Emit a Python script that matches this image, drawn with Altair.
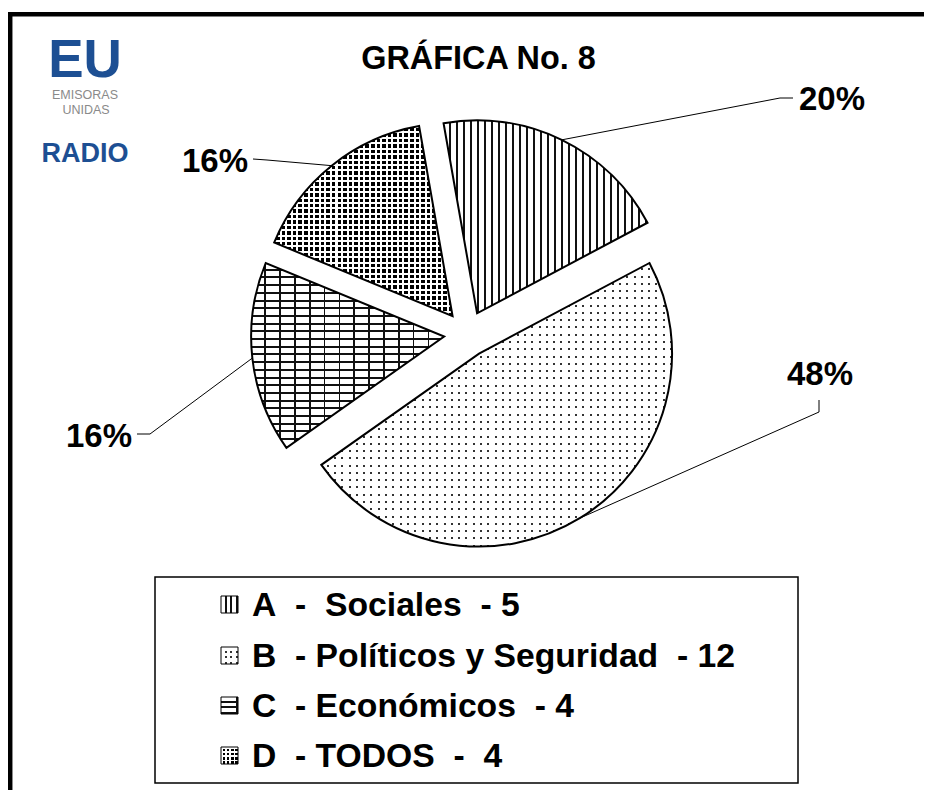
import math
import altair as alt
import pandas as pd

# ---------------- data ----------------
CATEGORIES = ["A", "B", "C", "D"]
NAMES = ["Sociales", "Políticos y Seguridad", "Económicos", "TODOS"]
COUNTS = [5, 12, 4, 4]
NB = "\u00a0"
LEGEND_TEXT = [
    f"A{NB} -{NB} Sociales{NB} - 5",
    f"B{NB} - Políticos y Seguridad{NB} - 12",
    f"C{NB} - Económicos{NB} - 4",
    f"D{NB} - TODOS{NB} -{NB} 4",
]
TITLE = "GRÁFICA No. 8"

# ---------------- layout (chart pixels = page pixels - 8) ----------------
M = 8
CX, CY = 467 - M, 334 - M
R = 193
EXPLODE = 23
START = math.radians(-10)
FONT = "Liberation Sans"
BLUE = "#1d4f93"
GREY = "#8a8a8a"

# label placement (page coordinates): elbow, end of leader, text anchor
LABEL_ELBOW = [(780, 98), (819, 412), (150, 434), (267, 160)]
LABEL_END = [(793, 98), (819, 400), (137, 434), (253, 159)]
LABEL_TXT = [(832, 110), (820, 385), (99, 447), (215, 172)]

# legend
LEG_BOX = (155, 577, 798, 783)
LEG_TEXT_X = 252
LEG_BASE = [616, 667, 717, 767]
SW_X, SW = 221, 17

TRANSP = "rgba(255,255,255,0)"


def stripes(n, frac, line, bg, axis):
    stops = []
    for i in range(n):
        a = i / n
        m = (i + 1 - frac) / n
        e = (i + 1) / n
        stops += [
            {"offset": round(a, 5), "color": bg},
            {"offset": round(m, 5), "color": bg},
            {"offset": round(m, 5), "color": line},
            {"offset": round(e, 5), "color": line},
        ]
    return {
        "gradient": "linear",
        "stops": stops,
        "x1": 0, "y1": 0,
        "x2": 1 if axis == "x" else 0,
        "y2": 0 if axis == "x" else 1,
    }


def pattern(kind, w, h, scale=1.0):
    """list of gradient fills (bottom to top) for a box of w x h pixels"""
    def n(dim, p):
        return max(1, int(round(dim / p)))
    if kind == "A":
        p, lw = 7.0 * scale, 2.0
        return [stripes(n(w, p), lw / p, "#111", "#fff", "x")]
    if kind == "B":
        p, s = 7.3 * scale, 2.0
        return [stripes(n(w, p), s / p, "#333", "#fff", "x"),
                stripes(n(h, p), s / p, TRANSP, "#fff", "y")]
    if kind == "C":
        ph, lh = 7.7 * scale, 2.0
        pv, lv = 15.0 * scale, 1.6
        return [stripes(n(h, ph), lh / ph, "#111", "#fff", "y"),
                stripes(n(w, pv), lv / pv, "#111", TRANSP, "x")]
    if kind == "D":
        p, s = 5.5 * scale, 3.5 * scale
        return [stripes(n(w, p), s / p, "#000", "#fff", "x"),
                stripes(n(h, p), s / p, TRANSP, "#fff", "y")]
    return []


# slice angles (used for pattern density and leader start points)
total = sum(COUNTS)
angles = []
cum = 0
for c in COUNTS:
    a0 = START + 2 * math.pi * cum / total
    cum += c
    a1 = START + 2 * math.pi * cum / total
    angles.append((a0, a1))


def arc_bbox(a0, a1):
    xs, ys = [0.0], [0.0]
    for k in range(301):
        a = a0 + (a1 - a0) * k / 300
        xs.append(R * math.sin(a))
        ys.append(-R * math.cos(a))
    return max(xs) - min(xs), max(ys) - min(ys)


pie_df = pd.DataFrame({
    "cat": CATEGORIES,
    "name": NAMES,
    "count": COUNTS,
    "order": list(range(len(CATEGORIES))),
})

base = (
    alt.Chart(pie_df)
    .transform_joinaggregate(total="sum(count)")
    .transform_window(cum="sum(count)", sort=[alt.SortField("order", order="ascending")],
                      frame=[None, 0])
    .transform_calculate(
        t0=f"{START} + 2*PI*(datum.cum - datum.count)/datum.total",
        t1=f"{START} + 2*PI*datum.cum/datum.total",
    )
    .transform_calculate(tm="(datum.t0 + datum.t1)/2")
    .transform_calculate(
        px=f"{CX} + {EXPLODE}*sin(datum.tm)",
        py=f"{CY} - {EXPLODE}*cos(datum.tm)",
    )
)

arc_enc = dict(
    theta=alt.Theta("t0:Q", scale=None),
    theta2=alt.Theta2("t1"),
    x=alt.X("px:Q", scale=None, axis=None),
    y=alt.Y("py:Q", scale=None, axis=None),
)

layers = []

one = pd.DataFrame({"k": [0]})

# frame (top and left thick borders)
layers.append(alt.Chart(one).mark_rule(color="#000", strokeWidth=4.5).encode(
    x=alt.value(0), x2=alt.value(916), y=alt.value(6.2)))
layers.append(alt.Chart(one).mark_rule(color="#000", strokeWidth=4.5).encode(
    x=alt.value(2.2), y=alt.value(4), y2=alt.value(782)))

# pie slices with patterns
for i, cat in enumerate(CATEGORIES):
    w, h = arc_bbox(*angles[i])
    sl = base.transform_filter(alt.datum.cat == cat)
    for g in pattern(cat, w, h):
        layers.append(sl.mark_arc(radius=R, fill=g, strokeWidth=0).encode(**arc_enc))
layers.append(base.mark_arc(radius=R, fillOpacity=0, stroke="#000", strokeWidth=2).encode(**arc_enc))

# leader lines
lead_rows = []
for i, cat in enumerate(CATEGORIES):
    a0, a1 = angles[i]
    tm = (a0 + a1) / 2
    sx = CX + (R + EXPLODE) * math.sin(tm)
    sy = CY - (R + EXPLODE) * math.cos(tm)
    pts = [(sx, sy), (LABEL_ELBOW[i][0] - M, LABEL_ELBOW[i][1] - M),
           (LABEL_END[i][0] - M, LABEL_END[i][1] - M)]
    for j, (x, y) in enumerate(pts):
        lead_rows.append({"cat": cat, "idx": j, "x": x, "y": y})
lead_df = pd.DataFrame(lead_rows)
layers.append(alt.Chart(lead_df).mark_line(color="#000", strokeWidth=1).encode(
    x=alt.X("x:Q", scale=None, axis=None),
    y=alt.Y("y:Q", scale=None, axis=None),
    detail="cat:N", order="idx:Q"))

# percentage labels
lab_df = pd.DataFrame({
    "cat": CATEGORIES,
    "pct": [f"{round(100 * c / total)}%" for c in COUNTS],
    "x": [p[0] - M for p in LABEL_TXT],
    "y": [p[1] - M for p in LABEL_TXT],
})
layers.append(alt.Chart(lab_df).mark_text(font=FONT, fontWeight="bold", fontSize=33,
                                          align="center", baseline="alphabetic", color="#000").encode(
    x=alt.X("x:Q", scale=None, axis=None), y=alt.Y("y:Q", scale=None, axis=None), text="pct:N"))

# title
layers.append(alt.Chart(one).mark_text(text=TITLE, font=FONT, fontWeight="bold", fontSize=32.4,
                                       align="center", baseline="alphabetic", color="#000").encode(
    x=alt.value(478.5 - M), y=alt.value(69 - M)))

# logo
layers.append(alt.Chart(one).mark_text(text="EU", font=FONT, fontWeight="bold", fontSize=53,
                                       align="center", baseline="alphabetic", color=BLUE).encode(
    x=alt.value(85 - M), y=alt.value(77 - M)))
layers.append(alt.Chart(one).mark_text(text="EMISORAS", font=FONT, fontSize=12.5,
                                       align="center", baseline="alphabetic", color=GREY).encode(
    x=alt.value(85 - M), y=alt.value(99 - M)))
layers.append(alt.Chart(one).mark_text(text="UNIDAS", font=FONT, fontSize=12.5,
                                       align="center", baseline="alphabetic", color=GREY).encode(
    x=alt.value(86 - M), y=alt.value(114 - M)))
layers.append(alt.Chart(one).mark_text(text="RADIO", font=FONT, fontWeight="bold", fontSize=27,
                                       align="center", baseline="alphabetic", color=BLUE).encode(
    x=alt.value(85 - M), y=alt.value(162 - M)))

# legend box
layers.append(alt.Chart(one).mark_rect(fill="#fff", stroke="#000", strokeWidth=1.5).encode(
    x=alt.value(LEG_BOX[0] - M), x2=alt.value(LEG_BOX[2] - M),
    y=alt.value(LEG_BOX[1] - M), y2=alt.value(LEG_BOX[3] - M)))

leg_df = pd.DataFrame({
    "cat": CATEGORIES,
    "text": LEGEND_TEXT,
    "tx": [LEG_TEXT_X - M] * 4,
    "ty": [b - M for b in LEG_BASE],
    "sx": [SW_X - M] * 4,
    "sx2": [SW_X + SW - M] * 4,
    "sy": [b - 20 - M for b in LEG_BASE],
    "sy2": [b - 20 + SW - M for b in LEG_BASE],
})
sw_enc = dict(
    x=alt.X("sx:Q", scale=None, axis=None), x2="sx2",
    y=alt.Y("sy:Q", scale=None, axis=None), y2="sy2",
)
leg_base = alt.Chart(leg_df)
for cat in CATEGORIES:
    for g in pattern(cat, SW, SW, scale=0.8):
        layers.append(leg_base.transform_filter(alt.datum.cat == cat)
                      .mark_rect(fill=g, strokeWidth=0).encode(**sw_enc))
layers.append(leg_base.mark_rect(fillOpacity=0, stroke="#000", strokeWidth=1).encode(**sw_enc))
layers.append(leg_base.mark_text(font=FONT, fontWeight="bold", fontSize=33.7, align="left",
                                 baseline="alphabetic", color="#000").encode(
    x=alt.X("tx:Q", scale=None, axis=None), y=alt.Y("ty:Q", scale=None, axis=None), text="text:N"))

chart = (
    alt.layer(*layers)
    .properties(width=916, height=782, padding=0, autosize="none", background="#ffffff")
    .configure_view(stroke=None)
)

chart.save("out.html", embed_options={"renderer": "svg", "actions": False})
